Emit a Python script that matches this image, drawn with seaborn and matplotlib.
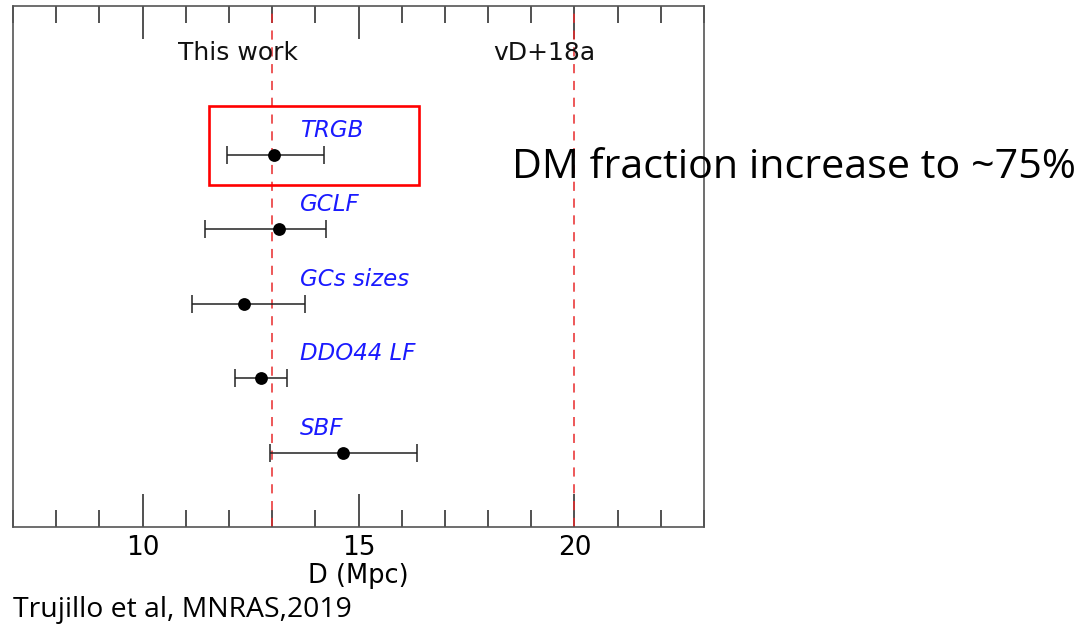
import matplotlib
matplotlib.use("Agg")
import matplotlib.pyplot as plt
import matplotlib.patches as mpatches
from matplotlib.ticker import MultipleLocator
import seaborn as sns
import pandas as pd

methods = ["TRGB", "GCLF", "GCs sizes", "DDO44 LF", "SBF"]
distance = [13.05, 13.15, 12.35, 12.75, 14.65]
err_low = [11.95, 11.45, 11.15, 12.15, 12.95]
err_high = [14.2, 14.25, 13.75, 13.35, 16.35]
ypos = [5, 4, 3, 2, 1]
ref_lines = [13.0, 20.0]
ref_labels = ["This work", "vD+18a"]
ref_label_x = [12.2, 19.3]

df = pd.DataFrame({"method": methods, "D": distance, "lo": err_low, "hi": err_high, "y": ypos})

sns.set_style("ticks")
plt.rcParams["font.family"] = ["DejaVu Sans"]

fig = plt.figure(figsize=(10.8, 6.29), dpi=100)
ax = fig.add_axes([13/1080, 1-527/629, (704-13)/1080, (527-6)/629])

for xv in ref_lines:
    ax.axvline(xv, color="#e8292b", ls=(0, (6, 5)), lw=1.1, zorder=1)

ax.errorbar(df["D"], df["y"], xerr=[df["D"] - df["lo"], df["hi"] - df["D"]],
            fmt="none", ecolor="#222222", elinewidth=1.1, capsize=6.5, capthick=1.1, zorder=2)
sns.scatterplot(data=df, x="D", y="y", ax=ax, color="black", s=85, edgecolor="black",
                linewidth=0, zorder=3, legend=False)

for _, r in df.iterrows():
    ax.text(13.65, r["y"] + 0.33, r["method"], color="#1a1aff", fontsize=16.5,
            style="italic", ha="left", va="center")

for lx, lab in zip(ref_label_x, ref_labels):
    ax.text(lx, 6.37, lab, fontsize=18, ha="center", va="center", color="#111111")

ax.add_patch(mpatches.Rectangle((11.53, 4.6), 16.4 - 11.53, 5.65 - 4.6, fill=False,
                                edgecolor="#ff0000", lw=1.9, zorder=4))

ax.set_xlim(7, 23)
ax.set_ylim(0, 7)
ax.set_yticks([])
ax.xaxis.set_major_locator(MultipleLocator(5))
ax.xaxis.set_minor_locator(MultipleLocator(1))
ax.tick_params(axis="x", which="major", direction="in", length=24, width=1.2, top=True,
               color="#333333", labelsize=19, labelcolor="black", pad=6)
ax.tick_params(axis="x", which="minor", direction="in", length=12, width=1.2, top=True,
               color="#333333")
ax.tick_params(axis="y", left=False, right=False)
for s in ax.spines.values():
    s.set_visible(True)
    s.set_color("#555555")
    s.set_linewidth(1.2)
ax.set_xlabel("D (Mpc)", fontsize=18.5, labelpad=1, color="black")
ax.set_ylabel("")

fig.text(512/1080, 1-168/629, "DM fraction increase to ~75%", fontsize=29.7,
         family="Open Sans", ha="left", va="center", color="black")
fig.text(13/1080, 1-610/629, "Trujillo et al, MNRAS,2019", fontsize=20.4,
         family="Open Sans", ha="left", va="center", color="black")

fig.savefig("out.png", dpi=100)
